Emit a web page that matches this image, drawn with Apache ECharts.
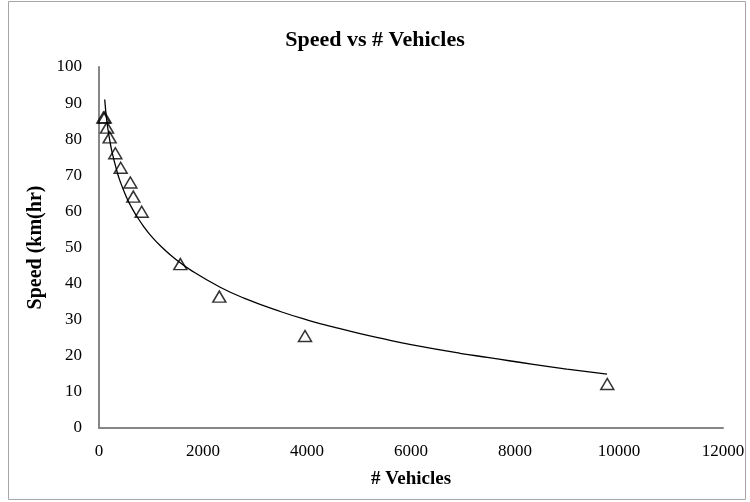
<!DOCTYPE html>
<html>
<head>
<meta charset="utf-8">
<script src="https://cdn.jsdelivr.net/npm/echarts@6/dist/echarts.min.js"></script>
<style>
html,body{margin:0;padding:0;background:#fff;}
#chart{width:750px;height:502px;}
</style>
</head>
<body>
<div id="chart"></div>
<script>
// Observed data (vehicles, speed)
const vehicles = [85, 110, 154, 205, 314, 417, 603, 660, 821, 1564, 2314, 3962, 9775];
const speeds   = [86.0, 86.0, 83.2, 80.5, 76.1, 72.1, 68.0, 64.1, 59.9, 45.4, 36.4, 25.5, 12.2];

// Trendline
const trendX = [110, 150, 200, 250, 340, 400, 500, 600, 725, 850, 1000, 1200, 1450, 1800, 2330, 2800, 3500, 4060, 4500, 5000, 5500, 6000, 6940, 7500, 8350, 9000, 9770];
const trendY = [91.0, 85.1, 80.3, 76.5, 71.4, 68.6, 64.9, 61.8, 58.7, 56.0, 53.2, 50.2, 47.0, 43.4, 39.0, 35.9, 32.2, 29.7, 28.0, 26.2, 24.6, 23.1, 20.7, 19.5, 17.6, 16.3, 14.9];

const xTicks = [0, 2000, 4000, 6000, 8000, 10000, 12000];
const yTicks = [0, 10, 20, 30, 40, 50, 60, 70, 80, 90, 100];

const pts = vehicles.map((v, i) => [v, speeds[i]]);
const trend = trendX.map((v, i) => [v, trendY[i]]);

const font = '"Liberation Serif", "Times New Roman", serif';
const chart = echarts.init(document.getElementById('chart'), null, {renderer: 'canvas'});
chart.setOption({
  animation: false,
  backgroundColor: '#fff',
  title: {
    text: 'Speed vs # Vehicles',
    left: 'center',
    top: 24,
    textStyle: {fontFamily: font, fontWeight: 'bold', fontSize: 22, color: '#000'}
  },
  graphic: [{
    type: 'rect',
    shape: {x: 8.5, y: 1.5, width: 737, height: 498},
    style: {fill: 'none', stroke: '#a6a6a6', lineWidth: 1},
    silent: true
  }],
  grid: {left: 99, right: 27, top: 67, bottom: 74, containLabel: false},
  xAxis: {
    type: 'value',
    min: xTicks[0], max: xTicks[xTicks.length - 1], interval: 2000,
    name: '# Vehicles',
    nameLocation: 'middle',
    nameGap: 42,
    nameTextStyle: {fontFamily: font, fontWeight: 'bold', fontSize: 19, color: '#000'},
    axisLine: {show: true, lineStyle: {color: '#868686', width: 2}},
    axisTick: {show: false},
    splitLine: {show: false},
    axisLabel: {fontFamily: font, fontSize: 17, color: '#000', margin: 15, formatter: v => String(v)}
  },
  yAxis: {
    type: 'value',
    min: yTicks[0], max: yTicks[yTicks.length - 1], interval: 10,
    name: 'Speed (km(hr)',
    nameLocation: 'middle',
    nameGap: 46,
    nameRotate: 90,
    nameTextStyle: {fontFamily: font, fontWeight: 'bold', fontSize: 20, color: '#000'},
    axisLine: {show: true, lineStyle: {color: '#868686', width: 2}},
    axisTick: {show: false},
    splitLine: {show: false},
    axisLabel: {fontFamily: font, fontSize: 17, color: '#000', margin: 17, formatter: v => String(v)}
  },
  series: [
    {
      type: 'line',
      data: trend,
      smooth: 0.5,
      showSymbol: false,
      lineStyle: {color: '#000', width: 1.3},
      z: 2
    },
    {
      type: 'scatter',
      data: pts,
      symbol: 'triangle',
      symbolSize: [13, 11],
      itemStyle: {color: 'rgba(255,255,255,0)', borderColor: '#000', borderWidth: 1.5},
      z: 3
    }
  ]
});
</script>
</body>
</html>
